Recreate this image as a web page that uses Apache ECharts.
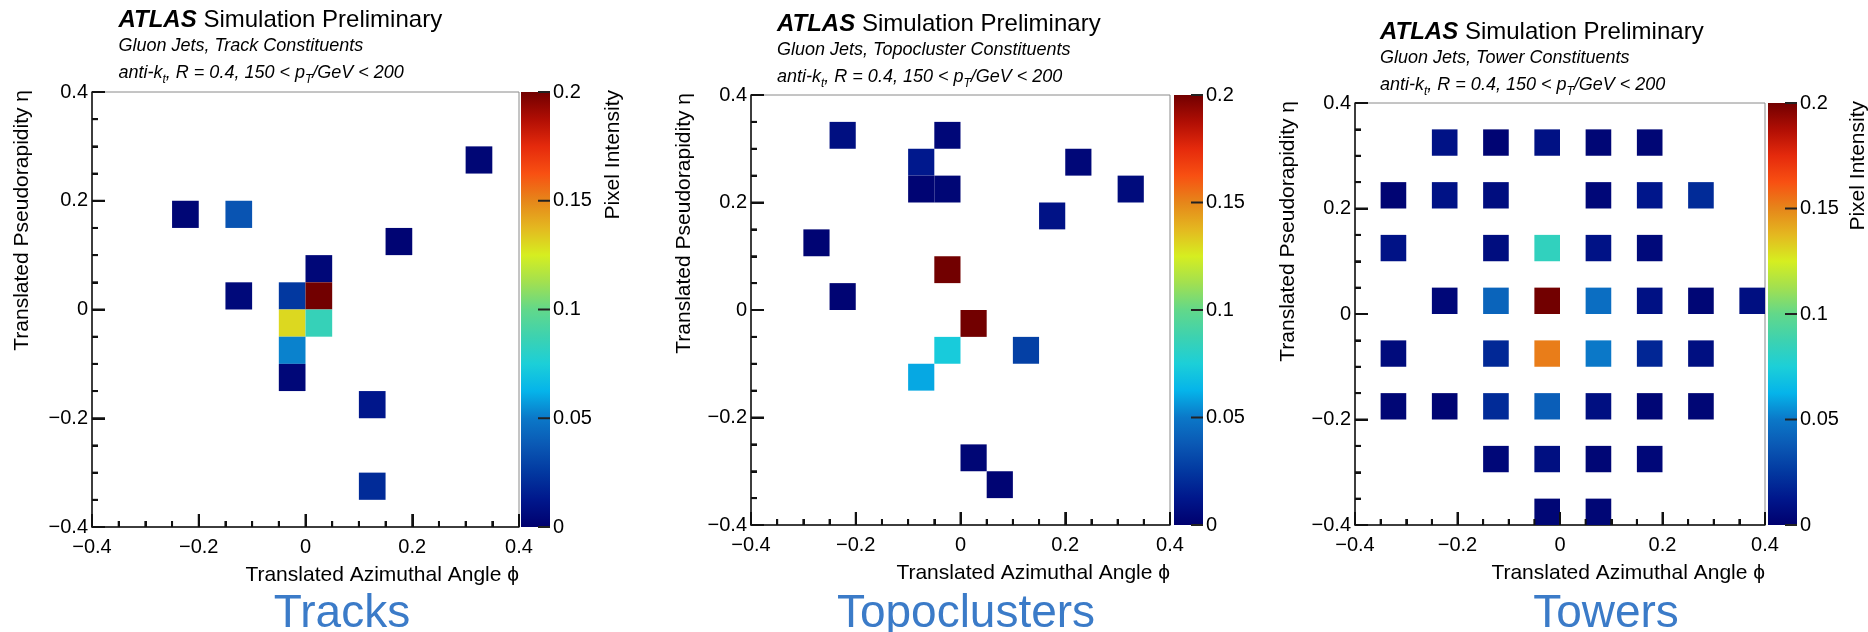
<!DOCTYPE html>
<html><head><meta charset="utf-8">
<script src="https://cdn.jsdelivr.net/npm/echarts@6/dist/echarts.min.js"></script>
<style>html,body{margin:0;padding:0;background:#fff}#c{width:1868px;height:632px}</style>
</head><body><div id="c"></div>
<script>
// ---------------- data ----------------
const BIN = 0.05;                       // pixel size in phi / eta
const axisTicks = [-0.4, -0.2, 0, 0.2, 0.4];
const colorTicks = [0, 0.05, 0.1, 0.15, 0.2];
const panelNames = ['Tracks', 'Topoclusters', 'Towers'];
const subtitles = ['Gluon Jets, Track Constituents', 'Gluon Jets, Topocluster Constituents', 'Gluon Jets, Tower Constituents'];
const xTitle = 'Translated Azimuthal Angle \u03d5';
const yTitle = 'Translated Pseudorapidity \u03b7';
const zTitle = 'Pixel Intensity';

// [phi centre, eta centre, intensity]
const tracks = [
  [-0.225, 0.175, 0.003], [-0.125, 0.175, 0.036], [0.325, 0.275, 0.003],
  [0.175, 0.125, 0.002], [0.025, 0.075, 0.004], [-0.125, 0.025, 0.005],
  [-0.025, 0.025, 0.025], [0.025, 0.025, 0.2], [-0.025, -0.025, 0.13],
  [0.025, -0.025, 0.085], [-0.025, -0.075, 0.052], [-0.025, -0.125, 0.004],
  [0.125, -0.175, 0.012], [0.125, -0.325, 0.02]
];
const topoclusters = [
  [-0.225, 0.325, 0.008], [-0.025, 0.325, 0.004], [-0.075, 0.275, 0.013],
  [-0.075, 0.225, 0.002], [-0.025, 0.225, 0.003], [0.225, 0.275, 0.004],
  [0.325, 0.225, 0.006], [0.175, 0.175, 0.01], [-0.275, 0.125, 0.002],
  [-0.225, 0.025, 0.002], [-0.025, 0.075, 0.2], [0.025, -0.025, 0.2],
  [-0.025, -0.075, 0.073], [-0.075, -0.125, 0.06], [0.125, -0.075, 0.028],
  [0.025, -0.275, 0.003], [0.075, -0.325, 0.002]
];
const towers = [
  [-0.225, 0.325, 0.01], [-0.125, 0.325, 0.002], [-0.025, 0.325, 0.009], [0.075, 0.325, 0.003], [0.175, 0.325, 0.003],
  [-0.325, 0.225, 0.002], [-0.225, 0.225, 0.01], [-0.125, 0.225, 0.007], [0.075, 0.225, 0.004], [0.175, 0.225, 0.012], [0.275, 0.225, 0.02],
  [-0.325, 0.125, 0.01], [-0.125, 0.125, 0.007], [-0.025, 0.125, 0.083], [0.075, 0.125, 0.01], [0.175, 0.125, 0.005],
  [-0.225, 0.025, 0.004], [-0.125, 0.025, 0.042], [-0.025, 0.025, 0.2], [0.075, 0.025, 0.046], [0.175, 0.025, 0.009], [0.275, 0.025, 0.003], [0.375, 0.025, 0.008],
  [-0.325, -0.075, 0.006], [-0.125, -0.075, 0.019], [-0.025, -0.075, 0.152], [0.075, -0.075, 0.05], [0.175, -0.075, 0.018], [0.275, -0.075, 0.008],
  [-0.325, -0.175, 0.003], [-0.225, -0.175, 0.002], [-0.125, -0.175, 0.02], [-0.025, -0.175, 0.04], [0.075, -0.175, 0.008], [0.175, -0.175, 0.003], [0.275, -0.175, 0.003],
  [-0.125, -0.275, 0.004], [-0.025, -0.275, 0.008], [0.075, -0.275, 0.003], [0.175, -0.275, 0.004],
  [-0.025, -0.375, 0.003], [0.075, -0.375, 0.003]
];
const panelData = [tracks, topoclusters, towers];

// ---------------- style ----------------
const palette = ['#00006e', '#00178c', '#0238a0', '#0a58b4', '#0b78c8', '#05b4ea', '#1ccfd8', '#3dd2b0',
  '#62d88a', '#a2e050', '#d6ee20', '#e4b820', '#e6861a', '#f85012', '#e52a0c', '#b00e04', '#720000'];
const FONT = '"Liberation Sans", Arial, Helvetica, sans-serif';
const layout = [
  {left: 92, top: 92, width: 427, height: 435, cb: 521, yT: 22, pix: 613, tx: 118.5, ty: 20, big: 342},
  {left: 751, top: 95, width: 419, height: 430, cb: 1174, yT: 684, pix: null, tx: 777, ty: 24, big: 966},
  {left: 1355, top: 103, width: 410, height: 422, cb: 1768, yT: 1288, pix: 1858, tx: 1380, ty: 32, big: 1606}
];
const CBW = 29;
const MINOR_SPLIT = 4, MAJOR_LEN = 13, MINOR_LEN = 6, CB_TICK_LEN = 12;
const TICK_COLOR = '#111', TICK_W = 2;

const AMIN = axisTicks[0], AMAX = axisTicks[axisTicks.length - 1], AINT = axisTicks[1] - axisTicks[0];
const CMIN = colorTicks[0], CMAX = colorTicks[colorTicks.length - 1], CINT = colorTicks[1] - colorTicks[0];

function fmtAxis(v) {
  if (Math.abs(v) < 1e-9) return '0';
  return (v < 0 ? '\u2212' : '') + Math.abs(v).toFixed(1);
}
function fmtColor(v) {
  if (Math.abs(v) < 1e-9) return '0';
  return String(parseFloat(v.toFixed(3)));
}

// tick positions: majors from axisTicks, minor subdivisions between them, for both axes
function tickItems(ticks) {
  const out = [];
  for (let k = 0; k < ticks.length; k++) {
    out.push([ticks[k], 1, 0], [ticks[k], 1, 1]);
    if (k < ticks.length - 1) {
      const step = (ticks[k + 1] - ticks[k]) / MINOR_SPLIT;
      for (let m = 1; m < MINOR_SPLIT; m++) {
        const v = ticks[k] + m * step;
        out.push([v, 0, 0], [v, 0, 1]);
      }
    }
  }
  return out;
}
const mainTickData = tickItems(axisTicks);

function renderCell(params, api) {
  const x = api.value(0), y = api.value(1);
  const p0 = api.coord([x - BIN / 2, y + BIN / 2]);
  const p1 = api.coord([x + BIN / 2, y - BIN / 2]);
  return {
    type: 'rect',
    shape: {x: p0[0], y: p0[1], width: p1[0] - p0[0], height: p1[1] - p0[1]},
    style: {fill: api.visual('color')}
  };
}
const stops = palette.map((c, i) => ({offset: i / (palette.length - 1), color: c}));
function renderBar(params, api) {
  const p0 = api.coord([0, CMAX]);
  const p1 = api.coord([1, CMIN]);
  return {
    type: 'rect',
    shape: {x: p0[0], y: p0[1], width: p1[0] - p0[0], height: p1[1] - p0[1]},
    style: {fill: new echarts.graphic.LinearGradient(0, 1, 0, 0, stops)}
  };
}
function renderTick(params, api) {
  const v = api.value(0), major = api.value(1), dim = api.value(2);
  const len = major ? MAJOR_LEN : MINOR_LEN;
  const st = {stroke: TICK_COLOR, lineWidth: TICK_W};
  if (dim === 0) {
    const p = api.coord([v, AMIN]);
    return {type: 'line', shape: {x1: p[0], y1: p[1], x2: p[0], y2: p[1] - len}, style: st};
  }
  const p = api.coord([AMIN, v]);
  return {type: 'line', shape: {x1: p[0], y1: p[1], x2: p[0] + len, y2: p[1]}, style: st};
}
function renderCbTick(params, api) {
  const p = api.coord([1, api.value(0)]);
  return {type: 'line', shape: {x1: p[0] - CB_TICK_LEN, y1: p[1], x2: p[0], y2: p[1]},
    style: {stroke: '#222', lineWidth: TICK_W}};
}

const grid = [], xAxis = [], yAxis = [], series = [], graphic = [];
layout.forEach((L, i) => {
  grid.push({left: L.left, top: L.top, width: L.width, height: L.height, show: true,
    borderColor: '#8a8a8a', borderWidth: 1});
  grid.push({left: L.cb, top: L.top, width: CBW, height: L.height, show: false});
  const lab = {fontFamily: FONT, fontSize: 20, color: '#000', formatter: fmtAxis};
  const main = {
    type: 'value', min: AMIN, max: AMAX, interval: AINT,
    axisLine: {show: true, onZero: false, lineStyle: {color: '#111', width: 1.5}},
    axisTick: {show: true, inside: true, length: MAJOR_LEN, lineStyle: {color: TICK_COLOR, width: TICK_W}},
    minorTick: {show: true, splitNumber: MINOR_SPLIT, length: MINOR_LEN, lineStyle: {color: TICK_COLOR, width: TICK_W}},
    splitLine: {show: false}
  };
  xAxis.push(Object.assign({}, main, {gridIndex: 2 * i, position: 'bottom',
    axisLabel: Object.assign({}, lab, {margin: 10})}));
  yAxis.push(Object.assign({}, main, {gridIndex: 2 * i, position: 'left',
    axisLabel: Object.assign({}, lab, {margin: 4})}));
  xAxis.push({type: 'value', gridIndex: 2 * i + 1, min: 0, max: 1, show: false});
  yAxis.push({type: 'value', gridIndex: 2 * i + 1, min: CMIN, max: CMAX, interval: CINT, position: 'right',
    axisLine: {show: false}, axisTick: {show: false},
    splitLine: {show: false},
    axisLabel: {fontFamily: FONT, fontSize: 20, color: '#000', margin: 3, formatter: fmtColor}
  });
  series.push({type: 'custom', name: panelNames[i], coordinateSystem: 'cartesian2d',
    xAxisIndex: 2 * i, yAxisIndex: 2 * i, renderItem: renderCell,
    encode: {x: 0, y: 1}, data: panelData[i], z: 2});

  // text
  graphic.push({type: 'text', x: L.tx, y: L.ty, style: {
    text: '{b|ATLAS}  {n|Simulation Preliminary}', verticalAlign: 'middle', align: 'left',
    rich: {b: {fontFamily: FONT, fontSize: 24, fontWeight: 'bold', fontStyle: 'italic', fill: '#000'},
           n: {fontFamily: FONT, fontSize: 24, fill: '#000'}}}});
  graphic.push({type: 'text', x: L.tx, y: L.ty + 26, style: {
    text: subtitles[i], font: 'italic 18px ' + FONT, fill: '#000', verticalAlign: 'middle', align: 'left'}});
  graphic.push({type: 'text', x: L.tx, y: L.ty + 53, style: {
    text: '{m|anti-k}{s|t}{m|, R = 0.4, 150 < p}{s|T}{m|/GeV < 200}', verticalAlign: 'middle', align: 'left',
    rich: {m: {fontFamily: FONT, fontSize: 18, fontStyle: 'italic', fill: '#000', lineHeight: 26},
           s: {fontFamily: FONT, fontSize: 12, fontStyle: 'italic', fill: '#000', lineHeight: 12, verticalAlign: 'bottom'}}}});
  graphic.push({type: 'text', x: L.left + L.width, y: L.top + L.height + 48, style: {
    text: xTitle, font: '21px ' + FONT, fill: '#000', align: 'right', verticalAlign: 'middle'}});
  graphic.push({type: 'text', x: L.yT, y: L.top - 2, rotation: Math.PI / 2, style: {
    text: yTitle, font: '21px ' + FONT, fill: '#000', align: 'right', verticalAlign: 'middle'}});
  if (L.pix !== null) {
    graphic.push({type: 'text', x: L.pix, y: L.top - 2, rotation: Math.PI / 2, style: {
      text: zTitle, font: '21px ' + FONT, fill: '#000', align: 'right', verticalAlign: 'middle'}});
  }
  graphic.push({type: 'text', x: L.big, y: 614, style: {
    text: panelNames[i], font: '46px ' + FONT, fill: '#3b7bc8', align: 'center', verticalAlign: 'middle'}});
});
layout.forEach((L, i) => {
  series.push({type: 'custom', coordinateSystem: 'cartesian2d', xAxisIndex: 2 * i + 1, yAxisIndex: 2 * i + 1,
    renderItem: renderBar, data: [[0, CMAX]], z: 1, silent: true});
});
layout.forEach((L, i) => {
  series.push({type: 'custom', coordinateSystem: 'cartesian2d', xAxisIndex: 2 * i, yAxisIndex: 2 * i,
    renderItem: renderTick, data: mainTickData, encode: {x: 0, y: 0}, clip: false, z: 5, silent: true});
  series.push({type: 'custom', coordinateSystem: 'cartesian2d', xAxisIndex: 2 * i + 1, yAxisIndex: 2 * i + 1,
    renderItem: renderCbTick, data: colorTicks.map(v => [v]), encode: {x: 0, y: 0}, clip: false, z: 5, silent: true});
});

const chart = echarts.init(document.getElementById('c'));
chart.setOption({
  animation: false,
  grid, xAxis, yAxis,
  visualMap: [{type: 'continuous', show: false, min: CMIN, max: CMAX, dimension: 2, seriesIndex: [0, 1, 2],
    inRange: {color: palette}}],
  series,
  graphic
});
</script></body></html>
